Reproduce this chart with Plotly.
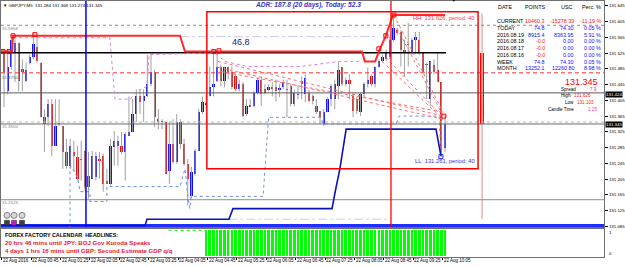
import plotly.graph_objects as go

W, H = 625, 267
FONT = "Liberation Sans"

# ---------------- candle data (GBPJPY M5) ----------------
opens = [131.526, 131.428, 131.491, 131.526, 131.552, 131.483, 131.453, 131.501, 131.514, 131.541,
         131.501, 131.362, 131.362, 131.395, 131.289, 131.345, 131.340, 131.274, 131.239, 131.274,
         131.262, 131.256, 131.277, 131.214, 131.206, 131.211, 131.256, 131.264, 131.198, 131.193,
         131.287, 131.289, 131.289, 131.274, 131.315, 131.325, 131.370, 131.415, 131.403, 131.415,
         131.446, 131.478, 131.357, 131.352, 131.350, 131.226, 131.294, 131.249, 131.350, 131.294,
         131.244, 131.163, 131.219, 131.277, 131.375, 131.395, 131.415, 131.438, 131.453, 131.491,
         131.453, 131.489, 131.478, 131.466, 131.433, 131.446, 131.370, 131.390, 131.390, 131.425,
         131.458, 131.433, 131.433, 131.438, 131.438, 131.433, 131.438, 131.433, 131.441, 131.395,
         131.420, 131.453, 131.420, 131.425, 131.415, 131.390, 131.378, 131.345, 131.375, 131.408,
         131.408, 131.441, 131.489, 131.446, 131.458, 131.415, 131.408, 131.375, 131.420, 131.446,
         131.466, 131.446, 131.491, 131.504, 131.509, 131.514, 131.559, 131.584, 131.579, 131.534,
         131.547, 131.526, 131.559, 131.559, 131.526, 131.496, 131.408, 131.496, 131.483, 131.451,
         131.284]
highs = [131.534, 131.534, 131.572, 131.559, 131.552, 131.509, 131.501, 131.521, 131.577, 131.567,
         131.501, 131.383, 131.408, 131.408, 131.408, 131.408, 131.340, 131.307, 131.307, 131.302,
         131.289, 131.302, 131.277, 131.274, 131.277, 131.274, 131.274, 131.269, 131.231, 131.307,
         131.327, 131.315, 131.325, 131.325, 131.415, 131.408, 131.433, 131.433, 131.433, 131.521,
         131.521, 131.483, 131.383, 131.357, 131.350, 131.350, 131.357, 131.370, 131.357, 131.307,
         131.256, 131.236, 131.282, 131.383, 131.415, 131.420, 131.491, 131.526, 131.526, 131.496,
         131.491, 131.491, 131.491, 131.471, 131.458, 131.451, 131.408, 131.408, 131.428, 131.463,
         131.466, 131.446, 131.446, 131.451, 131.458, 131.446, 131.458, 131.458, 131.446, 131.433,
         131.441, 131.466, 131.471, 131.433, 131.420, 131.408, 131.378, 131.383, 131.413, 131.446,
         131.458, 131.504, 131.489, 131.463, 131.471, 131.425, 131.413, 131.425, 131.451, 131.489,
         131.471, 131.491, 131.509, 131.521, 131.534, 131.567, 131.626, 131.589, 131.584, 131.559,
         131.602, 131.564, 131.579, 131.579, 131.526, 131.501, 131.504, 131.509, 131.526, 131.451,
         131.368]
lows = [131.388, 131.420, 131.483, 131.451, 131.428, 131.428, 131.451, 131.496, 131.509, 131.501,
        131.362, 131.274, 131.340, 131.264, 131.289, 131.340, 131.231, 131.231, 131.231, 131.224,
        131.201, 131.201, 131.176, 131.156, 131.206, 131.201, 131.206, 131.173, 131.193, 131.188,
        131.239, 131.239, 131.269, 131.201, 131.315, 131.325, 131.350, 131.370, 131.350, 131.413,
        131.441, 131.337, 131.332, 131.332, 131.219, 131.193, 131.244, 131.244, 131.282, 131.239,
        131.138, 131.156, 131.214, 131.277, 131.370, 131.383, 131.415, 131.415, 131.451, 131.441,
        131.438, 131.458, 131.433, 131.428, 131.428, 131.362, 131.365, 131.388, 131.388, 131.420,
        131.390, 131.420, 131.428, 131.415, 131.403, 131.413, 131.433, 131.362, 131.390, 131.390,
        131.408, 131.408, 131.400, 131.400, 131.395, 131.370, 131.345, 131.340, 131.375, 131.390,
        131.383, 131.408, 131.441, 131.441, 131.408, 131.362, 131.370, 131.365, 131.415, 131.438,
        131.441, 131.438, 131.489, 131.501, 131.504, 131.509, 131.554, 131.572, 131.491, 131.466,
        131.491, 131.521, 131.526, 131.521, 131.476, 131.408, 131.390, 131.471, 131.451, 131.261,
        131.274]
closes = [131.478, 131.489, 131.559, 131.552, 131.453, 131.478, 131.483, 131.514, 131.547, 131.504,
          131.362, 131.345, 131.395, 131.289, 131.340, 131.347, 131.274, 131.239, 131.289, 131.264,
          131.206, 131.255, 131.186, 131.186, 131.264, 131.264, 131.251, 131.193, 131.193, 131.289,
          131.302, 131.302, 131.274, 131.320, 131.325, 131.370, 131.415, 131.400, 131.415, 131.446,
          131.478, 131.362, 131.350, 131.351, 131.219, 131.294, 131.249, 131.350, 131.294, 131.244,
          131.206, 131.224, 131.277, 131.375, 131.400, 131.398, 131.438, 131.446, 131.491, 131.453,
          131.489, 131.476, 131.438, 131.433, 131.446, 131.365, 131.390, 131.391, 131.425, 131.458,
          131.420, 131.425, 131.438, 131.433, 131.428, 131.434, 131.451, 131.432, 131.395, 131.425,
          131.421, 131.446, 131.463, 131.403, 131.403, 131.375, 131.362, 131.375, 131.408, 131.441,
          131.446, 131.483, 131.446, 131.458, 131.446, 131.378, 131.378, 131.420, 131.446, 131.458,
          131.446, 131.491, 131.504, 131.514, 131.529, 131.559, 131.589, 131.577, 131.534, 131.526,
          131.546, 131.559, 131.567, 131.526, 131.478, 131.495, 131.504, 131.478, 131.451, 131.274,
          131.345]

# session indicator in the lower window (0/1 per bar)
session = [0] * 55 + [1] * 66
pre_session_idx = [44.8, 54.8]
pre_session_val = [1, 1]

time_labels = ["22 Aug 2016", "22 Aug 00:45", "22 Aug 01:25", "22 Aug 02:05", "22 Aug 02:45",
               "22 Aug 03:25", "22 Aug 04:05", "22 Aug 04:45", "22 Aug 05:25", "22 Aug 06:05",
               "22 Aug 06:45", "22 Aug 07:25", "22 Aug 08:05", "22 Aug 08:45", "22 Aug 09:25",
               "22 Aug 10:05"]
time_label_bars = [0, 8, 16, 24, 32, 40, 48, 56, 64, 72, 80, 88, 96, 104, 112, 120]

price_ticks = [131.645, 131.605, 131.565, 131.525, 131.485, 131.445, 131.405, 131.365,
               131.325, 131.285, 131.245, 131.205, 131.165, 131.125, 131.085]

# horizontal levels
lvl_5958 = 131.5958
lvl_open = 131.526
lvl_4750 = 131.4750
lvl_424 = 131.424
lvl_3500 = 131.3500
lvl_bid = 131.345
lvl_1525 = 131.1525
lvl_blue = 131.087
prev_high_lvl, prev_high_from, prev_high_to = 131.567, 47.9, 101.2
day_low_lvl, day_low_from, day_low_to = 131.103, 61.0, 105.3

# 40-period channel (HH / LL)
hh_idx = [-1.1, 2.2, 2.45, 47.9, 49.25, 97.4, 98.2, 101.0, 102.3, 103.9, 105.85, 120.0]
hh_price = [131.529, 131.529, 131.569, 131.569, 131.529, 131.529, 131.504, 131.504, 131.536,
            131.569, 131.622, 131.622]
ll_idx = [-1.1, 38.4, 38.9, 61.2, 62.3, 89.25, 90.3, 91.4, 93.1, 117.55, 118.9]
ll_price = [131.087, 131.087, 131.103, 131.103, 131.130, 131.130, 131.181, 131.231, 131.332,
            131.332, 131.264]

# envelopes (dotted)
up_env_idx = [2.45, 28.8, 30.2, 34.3, 36.2, 38.9, 39.5, 57.4, 60.1, 66.4, 80.5, 91.4, 96.9]
up_env_price = [131.564, 131.564, 131.408, 131.408, 131.428, 131.441, 131.521, 131.526, 131.504,
                131.491, 131.491, 131.504, 131.504]
lo_env_idx = [17.96, 17.96, 18.5, 20.1, 20.7, 23.4, 23.4, 28.0, 28.0, 47.9, 49.25, 50.1, 50.6,
              50.9, 70.5, 72.0, 86.3, 86.8, 106.7, 107.5, 118.4, 118.9]
lo_env_price = [131.080, 131.236, 131.236, 131.206, 131.173, 131.173, 131.148, 131.148, 131.186,
                131.186, 131.231, 131.156, 131.130, 131.161, 131.161, 131.362, 131.362, 131.345,
                131.345, 131.365, 131.365, 131.264]

# fan lines (dotted red)
fan_x0 = [58.2, 58.2, 59.05, 106.1, 106.9, 103.9, 102.9]
fan_y0 = [131.504, 131.489, 131.478, 131.622, 131.589, 131.514, 131.504]
fan_x1 = [119.45, 119.45, 119.45, 119.45, 119.45, 119.45, 119.45]
fan_y1 = [131.365, 131.357, 131.375, 131.375, 131.367, 131.362, 131.357]

hi_mark_idx = [-0.27, 1.36, 2.45, 8.4, 57.1, 58.5, 102.0, 103.9, 106.1, 119.7]
hi_mark_price = [131.529, 131.529, 131.569, 131.572, 131.529, 131.531, 131.536, 131.569, 131.622, 131.365]
lo_mark_idx = [118.9]
lo_mark_price = [131.262]

vline_blue_bar = 22.3
vline_red_bar = 105.3
box_x0, box_x1, box_lo, box_hi = 55.2, 129.0, 131.231, 131.630

day_bar = 130.1
day_open, day_high, day_low, day_close = 131.526, 131.626, 131.103, 131.345

table_dates = ["CURRENT", "TODAY", "2016.08.19", "2016.08.18", "2016.08.17", "2016.08.16", "WEEK", "MONTH"]
table_points = ["10460.3", "74.8", "8915.4", "-0.0", "-0.0", "-0.0", "74.8", "13252.1"]
table_usc = ["-15278.39", "74.30", "8363.95", "0.00", "0.00", "0.00", "74.30", "12260.80"]
table_perc = ["-11.19 %", "0.05 %", "5.91 %", "0.00 %", "0.00 %", "0.00 %", "0.05 %", "8.98 %"]
points_red = [True, False, False, True, True, True, False, False]
usc_red = [True, False, False, False, False, False, False, False]

# ---------------- axes geometry ----------------
X_MIN, X_MAX = -0.816, 163.27
Y_TOP, Y_BOT = 131.6575, 131.0825


def xp(px):
    return px / W


def yp(py):
    return 1 - py / H


n = len(opens)
bars = list(range(n))

fig = go.Figure()

# candle wicks
wx, wy = [], []
for i in bars:
    wx += [i, i, None]
    wy += [highs[i], lows[i], None]
fig.add_trace(go.Scatter(x=wx, y=wy, mode="lines", line=dict(color="#a0a0a0", width=1),
                         hoverinfo="skip"))
body_colors = ["#0a0aff" if c >= o else "#dd1111" for o, c in zip(opens, closes)]
fig.add_trace(go.Bar(x=bars, y=[c - o for o, c in zip(opens, closes)], base=opens, width=0.62,
                     marker=dict(color=body_colors, line=dict(width=0)), hoverinfo="skip"))

# daily candle at right
fig.add_trace(go.Scatter(x=[day_bar, day_bar], y=[day_high, day_low], mode="lines",
                         line=dict(color="#e8b4b4", width=1.5), hoverinfo="skip"))
fig.add_trace(go.Bar(x=[day_bar], y=[day_close - day_open], base=[day_open], width=1.1,
                     marker=dict(color="#ff0000", line=dict(width=0)), hoverinfo="skip"))


def hline(level, color, width=1, dash="solid", x0=X_MIN, x1=X_MAX):
    fig.add_trace(go.Scatter(x=[x0, x1], y=[level, level], mode="lines",
                             line=dict(color=color, width=width, dash=dash), hoverinfo="skip"))


hline(lvl_5958, "#8c8c8c", 1, "dot")
hline(lvl_open, "#000000", 1.3, "solid", X_MIN, 120.3)
hline(lvl_4750, "#ff3030", 1, "4px,3px")
hline(lvl_424, "#5a5a5a", 1)
hline(lvl_3500, "#b8b8b8", 1, "dot")
hline(lvl_bid, "#6a6a6a", 1)
hline(lvl_1525, "#8c8c8c", 1)
hline(lvl_blue, "#1f2dff", 3)
hline(prev_high_lvl, "#cfc8e8", 1, "dashdot", prev_high_from, prev_high_to)
hline(day_low_lvl, "#d0d0dc", 1, "dashdot", day_low_from, day_low_to)

# envelopes
fig.add_trace(go.Scatter(x=up_env_idx, y=up_env_price, mode="lines",
                         line=dict(color="#e07ce0", width=1, dash="dot"), hoverinfo="skip"))
fig.add_trace(go.Scatter(x=lo_env_idx, y=lo_env_price, mode="lines",
                         line=dict(color="#6f8fe8", width=1, dash="dot"), hoverinfo="skip"))

# fans
for a, b, c, d in zip(fan_x0, fan_y0, fan_x1, fan_y1):
    fig.add_trace(go.Scatter(x=[a, c], y=[b, d], mode="lines",
                             line=dict(color="#ff7070", width=1, dash="dot"), hoverinfo="skip"))

# channel
fig.add_trace(go.Scatter(x=hh_idx, y=hh_price, mode="lines",
                         line=dict(color="#ff2a2a", width=2), hoverinfo="skip"))
fig.add_trace(go.Scatter(x=ll_idx, y=ll_price, mode="lines",
                         line=dict(color="#0a14b4", width=1.6), hoverinfo="skip"))

fig.add_trace(go.Scatter(x=hi_mark_idx, y=hi_mark_price, mode="markers",
                         marker=dict(symbol="square-open", size=4, color="#ff0000",
                                     line=dict(width=1, color="#ff0000")), hoverinfo="skip"))
fig.add_trace(go.Scatter(x=lo_mark_idx, y=lo_mark_price, mode="markers",
                         marker=dict(symbol="square-open", size=4, color="#2020ff",
                                     line=dict(width=1, color="#2020ff")), hoverinfo="skip"))

# lower window
fig.add_trace(go.Bar(x=bars, y=session, xaxis="x2", yaxis="y2", width=0.72,
                     marker=dict(color="#00ff00", line=dict(width=0)), hoverinfo="skip"))
fig.add_trace(go.Scatter(x=pre_session_idx, y=pre_session_val, xaxis="x2", yaxis="y2",
                         mode="lines", line=dict(color="#00ee00", width=1, dash="dot"),
                         hoverinfo="skip"))

shapes = [
    dict(type="line", xref="x", yref="y", x0=vline_blue_bar, x1=vline_blue_bar, y0=Y_BOT, y1=Y_TOP,
         line=dict(color="#0000ff", width=1.5)),
    dict(type="line", xref="x", yref="y", x0=vline_red_bar, x1=vline_red_bar, y0=Y_BOT, y1=Y_TOP,
         line=dict(color="#ff0000", width=1.3)),
    dict(type="rect", xref="x", yref="y", x0=box_x0, x1=box_x1, y0=box_lo, y1=box_hi,
         line=dict(color="#ff0000", width=1.5)),
]
# EA buttons at bottom-left
for cx in [7, 14, 22]:
    shapes.append(dict(type="circle", xref="paper", yref="paper", x0=xp(cx - 3), x1=xp(cx + 3),
                       y0=yp(220), y1=yp(214), line=dict(color="#808080", width=1),
                       fillcolor="#d8d8d8"))
for cx, col in [(7, "#404040"), (14, "#c020c0"), (22, "#404040")]:
    shapes.append(dict(type="rect", xref="paper", yref="paper", x0=xp(cx - 2.5), x1=xp(cx + 2.5),
                       y0=yp(227), y1=yp(222), line=dict(color="#202020", width=0.5),
                       fillcolor=col))

ann = []


def txt(x, y, text, size, color="#000000", anchor="left", bold=False, italic=False, bg=None):
    if bold:
        text = "<b>" + text + "</b>"
    if italic:
        text = "<i>" + text + "</i>"
    d = dict(x=xp(x), y=yp(y), xref="paper", yref="paper", text=text, showarrow=False,
             xanchor=anchor, yanchor="middle", font=dict(family=FONT, size=size, color=color),
             borderpad=0)
    if bg:
        d["bgcolor"] = bg
    ann.append(d)


txt(2, 5.5, "▼ GBPJPY,M5  131.284 131.368 131.274 131.345", 4.4)
txt(308, 5, "ADR: 187.8 (20 days), Today: 52.3", 6.6, "#3434c8", "center", bold=True, italic=True)
txt(241, 42, "46.8", 9, "#1c1c6c", "center")
txt(412, 18.5, "HH: 131.626, period: 40", 5.8, "#ff3c3c")
txt(414, 162, "LL: 131.261, period: 40", 5.8, "#3535dd")
txt(451, 1.5, "▼", 3.5)

# table
txt(497, 7, "DATE", 5.4)
txt(546, 7, "POINTS", 5.4, anchor="right")
txt(573, 7, "USC", 5.4, anchor="right")
txt(602, 7, "Perc. %", 5.4, anchor="right")
row_y = [21.5, 28.3, 35, 41.7, 48.3, 55, 62, 69]
for k, ry in enumerate(row_y):
    txt(496, ry, table_dates[k], 5.4)
    txt(546, ry, table_points[k], 5.4, "#ff1010" if points_red[k] else "#1010ff", "right")
    txt(575, ry, table_usc[k], 5.4, "#ff1010" if usc_red[k] else "#1010ff", "right")
    txt(602, ry, table_perc[k], 5.4, "#ff1010" if usc_red[k] else "#1010ff", "right")

txt(599, 82.5, "131.345", 9, "#ff0000", "right")
txt(577, 90, "Spread", 4.6, anchor="right")
txt(598, 90, "7.9", 4.6, "#ff2a6a", "right")
txt(572, 96, "High", 4.6, anchor="right")
txt(573, 96, "131.626", 4.6, "#ff2020")
txt(575, 103, "Low", 4.6, anchor="right")
txt(576, 103, "131.103", 4.6, "#ff2020")
txt(575, 110, "Candle Time", 4.6, anchor="right")
txt(587, 110, "1:25", 4.6, "#ff30c0")

# left labels of horizontal objects
txt(1, 29, "31.5958", 4.4, "#808080")
txt(1, 78, "31.4750", 4.4, "#806060")
txt(1, 127.5, "31.3500", 4.4, "#808080")
txt(1, 204, "31.1525", 4.4, "#808080")

# price boxes on the right axis
txt(605, 95, "131.424", 4.4, "#ffffff", bg="#000000")
txt(605, 125.5, "131.345", 4.4, "#ffffff", bg="#000000")

# lower window
txt(4, 237, "FOREX FACTORY CALENDAR  HEADLINES:", 5.4, "#000000", bold=True)
txt(4, 244.5, "20 hrs 46 mins until JPY: BOJ Gov Kuroda Speaks", 6.1, "#ee1133", bold=True)
txt(4, 252, "4 days 1 hrs 16 mins until GBP: Second Estimate GDP q/q", 6.1, "#ee1133", bold=True)
txt(608, 234, "1", 4.4)
txt(608, 255, "0", 4.4)

# time labels
for b, lab in zip(time_label_bars, time_labels):
    ann.append(dict(x=b - 0.6, y=yp(262.5), xref="x2", yref="paper", text=lab, showarrow=False,
                    xanchor="left", yanchor="middle", borderpad=0,
                    font=dict(family=FONT, size=4.5, color="#000000")))

axis_common = dict(showgrid=False, zeroline=False, showline=True, mirror=True,
                   linecolor="#707070", linewidth=1)

fig.update_layout(
    width=W, height=H, margin=dict(l=0, r=0, t=0, b=0),
    paper_bgcolor="white", plot_bgcolor="white", showlegend=False,
    barmode="overlay", bargap=0,
    xaxis=dict(domain=[xp(1), xp(604)], range=[X_MIN, X_MAX], showticklabels=False,
               anchor="y", **axis_common),
    yaxis=dict(domain=[yp(229), yp(1)], range=[Y_BOT, Y_TOP], side="right", anchor="x",
               tickvals=price_ticks, tickformat=".3f", ticks="outside", ticklen=3,
               tickcolor="#000000", tickfont=dict(family=FONT, size=4.4, color="#000000"),
               **axis_common),
    xaxis2=dict(domain=[xp(1), xp(604)], range=[X_MIN, X_MAX], matches="x", anchor="y2",
                showticklabels=False, tickvals=[b - 0.6 for b in time_label_bars],
                ticks="outside", ticklen=2, tickcolor="#000000", **axis_common),
    yaxis2=dict(domain=[yp(259), yp(231)], range=[-0.04, 1.04], side="right", anchor="x2",
                showticklabels=False, **axis_common),
    shapes=shapes,
    annotations=ann,
)

fig.write_html("out.html")
